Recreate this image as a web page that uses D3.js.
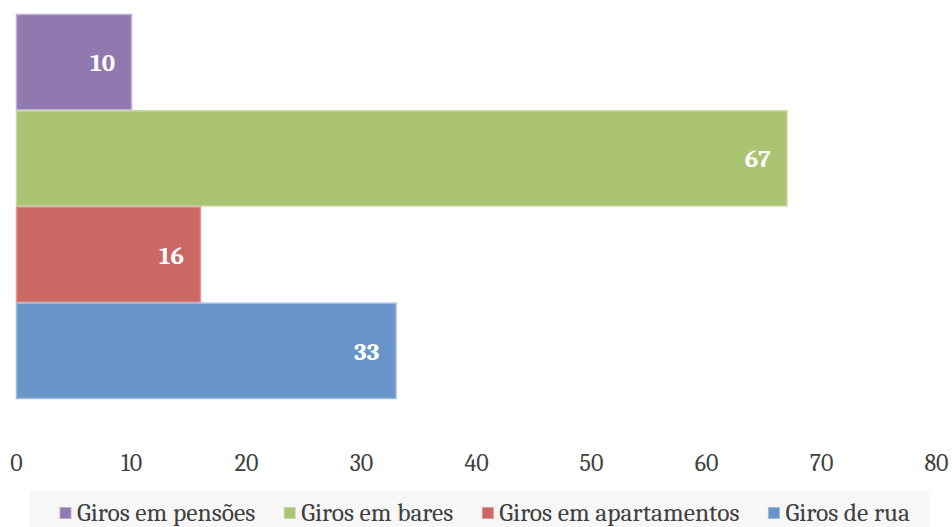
<!DOCTYPE html>
<html>
<head>
<meta charset="utf-8">
<script src="https://cdn.jsdelivr.net/npm/d3@7"></script>
<style>
  body { margin: 0; background: #fff; }
  text { font-family: Cambria, "Liberation Serif", serif; }
</style>
</head>
<body>
<div id="chart"></div>
<script>
let categories = ["Giros em pensões", "Giros em bares", "Giros em apartamentos", "Giros de rua"];
let values = [10, 67, 16, 33];
let colors = ["#9179b0", "#aac473", "#c96865", "#6894c8"];
let strokes = ["#bcadd3", "#c9dca5", "#e09a98", "#9cbbe0"];
let ticks = [0, 10, 20, 30, 40, 50, 60, 70, 80];

let width = 952, height = 527;

let svg = d3.select('#chart')
  .append('svg')
  .attr('width', width)
  .attr('height', height);

let xS = d3.scaleLinear()
  .domain([0, 80])
  .range([16, 936]);

let yS = d3.scaleBand()
  .domain(categories)
  .range([14, 399])
  .padding(0);

svg.selectAll('rect.bar')
  .data(categories)
  .enter()
  .append('rect')
  .attr('class', 'bar')
  .attr('x', xS(0) + 0.5)
  .attr('y', d => yS(d) + 0.5)
  .attr('width', (d, i) => xS(values[i]) - xS(0))
  .attr('height', yS.bandwidth() - 1)
  .style('fill', (d, i) => colors[i])
  .style('stroke', (d, i) => strokes[i])
  .style('stroke-width', 1.5);

svg.selectAll('text.val')
  .data(categories)
  .enter()
  .append('text')
  .attr('class', 'val')
  .attr('x', (d, i) => xS(values[i]) - 16)
  .attr('y', d => yS(d) + yS.bandwidth() / 2 + 9)
  .attr('text-anchor', 'end')
  .style('fill', '#fff')
  .style('font-weight', 'bold')
  .style('font-size', '25px')
  .text((d, i) => values[i]);

// x axis, labels only
let axis = svg.append('g')
  .attr('transform', 'translate(0, 471)')
  .call(d3.axisBottom(xS).tickValues(ticks).tickSize(0).tickPadding(0));
axis.select('.domain').remove();
axis.selectAll('text')
  .attr('dy', 0)
  .style('font-family', 'Cambria, "Liberation Serif", serif')
  .style('font-size', '24px')
  .style('fill', '#404040');

// legend
let legend = svg.append('g');
legend.append('rect')
  .attr('x', 30)
  .attr('y', 491)
  .attr('width', 899)
  .attr('height', 40)
  .style('fill', '#f7f7f7');

let items = legend.selectAll('g.item')
  .data(categories)
  .enter()
  .append('g')
  .attr('class', 'item');
items.append('rect')
  .attr('width', 11)
  .attr('height', 11)
  .attr('y', 507.5)
  .style('fill', (d, i) => colors[i])
  .style('stroke', (d, i) => strokes[i]);
items.append('text')
  .attr('x', 17)
  .attr('y', 521)
  .style('font-size', '25.5px')
  .style('fill', '#404040')
  .text(d => d);

let widths = [];
items.each(function() { widths.push(this.getBBox().width); });
let gap = 29;
let xpos = 60;
items.each(function(d, i) {
  d3.select(this).attr('transform', 'translate(' + xpos + ', 0)');
  xpos += widths[i] + gap;
});
</script>
</body>
</html>
